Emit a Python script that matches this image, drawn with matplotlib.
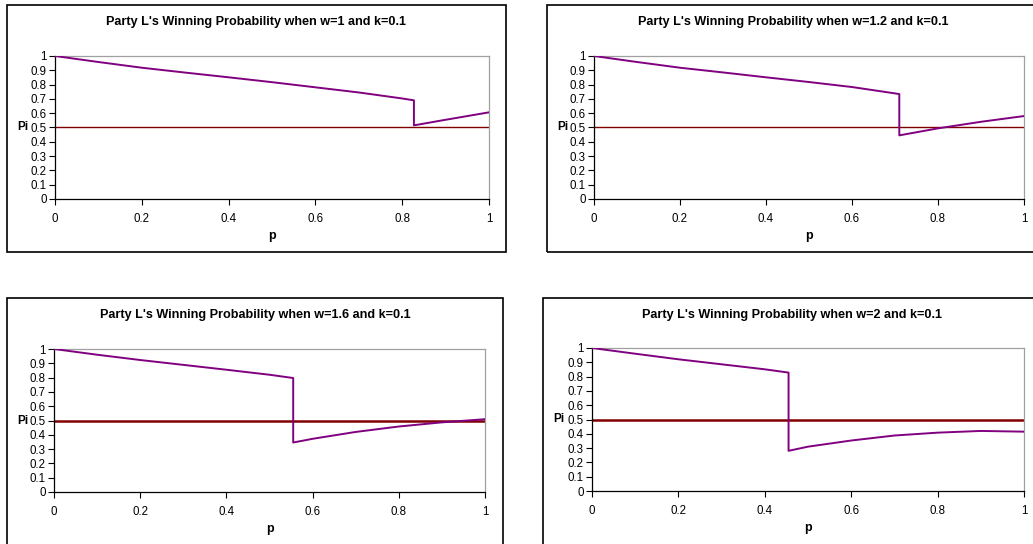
import matplotlib
matplotlib.use("Agg")
import matplotlib.pyplot as plt
from matplotlib.patches import Rectangle

plt.rcParams["font.family"] = ["Liberation Sans", "DejaVu Sans"]

W, H = 1033, 544

titles = ["Party L's Winning Probability when w=1 and k=0.1",
          "Party L's Winning Probability when w=1.2 and k=0.1",
          "Party L's Winning Probability when w=1.6 and k=0.1",
          "Party L's Winning Probability when w=2 and k=0.1"]
p_w1 = [0, 0.1, 0.2, 0.3, 0.4, 0.5, 0.6, 0.7, 0.8, 0.827, 0.827, 0.9, 1.0]
pi_w1 = [1.0, 0.958, 0.918, 0.884, 0.851, 0.817, 0.781, 0.745, 0.703, 0.69, 0.515, 0.554, 0.606]
p_w12 = [0, 0.1, 0.2, 0.3, 0.4, 0.5, 0.6, 0.71, 0.71, 0.8, 0.9, 1.0]
pi_w12 = [1.0, 0.958, 0.918, 0.885, 0.851, 0.818, 0.783, 0.734, 0.445, 0.494, 0.54, 0.58]
p_w16 = [0, 0.1, 0.2, 0.3, 0.4, 0.5, 0.555, 0.555, 0.6, 0.7, 0.8, 0.9, 1.0]
pi_w16 = [1.0, 0.96, 0.923, 0.889, 0.855, 0.82, 0.797, 0.346, 0.372, 0.42, 0.458, 0.487, 0.509]
p_w2 = [0, 0.1, 0.2, 0.3, 0.4, 0.455, 0.455, 0.5, 0.6, 0.7, 0.8, 0.9, 1.0]
pi_w2 = [1.0, 0.96, 0.921, 0.886, 0.851, 0.828, 0.281, 0.31, 0.353, 0.388, 0.408, 0.42, 0.415]
threshold = 0.5
xticks = [0, 0.2, 0.4, 0.6, 0.8, 1.0]
xticklabels = ["0", "0.2", "0.4", "0.6", "0.8", "1"]
yticks = [0, 0.1, 0.2, 0.3, 0.4, 0.5, 0.6, 0.7, 0.8, 0.9, 1.0]
yticklabels = ["0", "0.1", "0.2", "0.3", "0.4", "0.5", "0.6", "0.7", "0.8", "0.9", "1"]

series = [(p_w1, pi_w1), (p_w12, pi_w12), (p_w16, pi_w16), (p_w2, pi_w2)]
# pixel layouts: (box l, t, r, b), (axes l, t, r, b), threshold lw
boxes = [(7, 5, 506, 252), (547, 5, 1040, 252), (7, 298, 503, 550), (543, 298, 1040, 550)]
axes_px = [(55, 56, 489, 199), (594, 56, 1024, 199), (54, 349, 485, 492), (592, 348, 1024, 491)]
thr_lw = [1.0, 1.0, 1.8, 1.8]

fig = plt.figure(figsize=(W/100, H/100), dpi=100)

for (x, y), title, box, apx, tlw in zip(series, titles, boxes, axes_px, thr_lw):
    bl, bt, br, bb = box
    fig.patches.append(Rectangle((bl/W, 1-bb/H), (br-bl)/W, (bb-bt)/H, transform=fig.transFigure,
                                 fill=False, ec="black", lw=1.2))
    fig.text((bl+br)/2/W, 1-(bt+17)/H, title, ha="center", va="center", fontsize=9.1, fontweight="bold")
    l, t, r, b = apx
    ax = fig.add_axes([l/W, 1-b/H, (r-l)/W, (b-t)/H])
    ax.plot(x, y, color="#800080", lw=1.4, zorder=3)
    ax.axhline(threshold, color="#800000", lw=tlw, zorder=2)
    ax.set_xlim(0, 1); ax.set_ylim(0, 1)
    ax.set_xticks(xticks); ax.set_xticklabels(xticklabels)
    ax.set_yticks(yticks); ax.set_yticklabels(yticklabels)
    ax.tick_params(direction="out", length=4, width=0.8, labelsize=8.3, pad=2)
    ax.tick_params(axis="x", pad=6)
    for s in ("top", "right"): ax.spines[s].set_color("#a0a0a0")
    for s in ("left", "bottom"): ax.spines[s].set_color("black")
    for s in ax.spines.values(): s.set_linewidth(0.9)
    ax.set_xlabel("p", fontsize=9, fontweight="bold", va="center")
    ax.xaxis.set_label_coords(0.5, -(236-199)/143)
    ax.set_ylabel("Pi", fontsize=8.5, fontweight="bold", rotation=0, ha="right", va="center")
    ax.yaxis.set_label_coords(-(l-(bl+21))/(r-l), 0.5)

fig.savefig("out.png", dpi=100)
